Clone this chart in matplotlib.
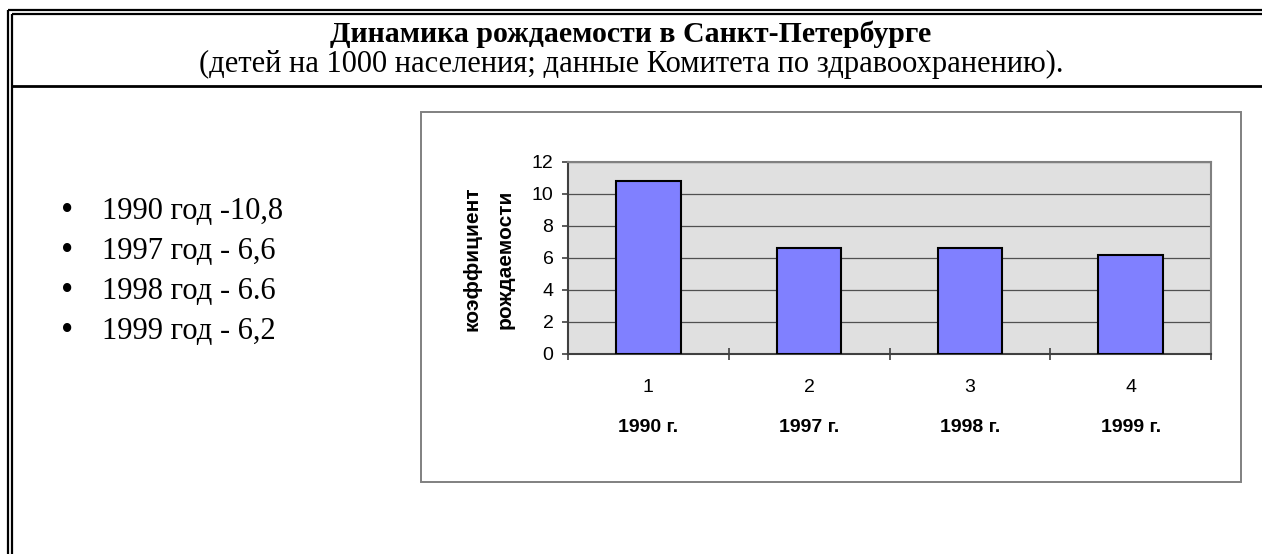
import matplotlib.pyplot as plt
from matplotlib.lines import Line2D
from matplotlib.patches import Rectangle
from matplotlib.transforms import blended_transform_factory

W, H = 1262, 554

# chart data
positions = [1, 2, 3, 4]
years = ['1990 г.', '1997 г.', '1998 г.', '1999 г.']
birth_rate = [10.8, 6.6, 6.6, 6.2]
y_ticks = [0, 2, 4, 6, 8, 10, 12]

bullet_lines = ['1990 год -10,8', '1997 год - 6,6', '1998 год - 6.6', '1999 год - 6,2']

title = 'Динамика рождаемости в Санкт-Петербурге'
subtitle = '(детей на 1000 населения; данные Комитета по здравоохранению).'
ylabel_lines = ['коэффициент', 'рождаемости']


def fx(px):
    return px / W


def fy(py):
    return 1 - py / H


def line(x0, y0, x1, y1, lw=1.6, color='black'):
    fig.add_artist(Line2D([fx(x0), fx(x1)], [fy(y0), fy(y1)], color=color, lw=lw,
                          solid_capstyle='butt'))


serif = 'Liberation Serif'
sans = 'Liberation Sans'

fig = plt.figure(figsize=(W / 100, H / 100), dpi=100, facecolor='white')

# double border on the left and top, single line under the header
line(8, 10, 8, H)
line(12, 14, 12, H)
line(8, 10, W, 10)
line(12, 14, W, 14)
line(12, 86, W, 86, lw=2.0)

fig.text(0.5, fy(34), title, family=serif, fontsize=21.5, fontweight='bold',
         ha='center', va='center')
fig.text(0.5, fy(64), subtitle, family=serif, fontsize=22,
         ha='center', va='center')

# bullet list
for i, txt in enumerate(bullet_lines):
    yb = 219 + i * 40
    fig.text(fx(61), fy(yb + 1), '\u2022', family=serif, fontsize=25, ha='left', va='baseline')
    fig.text(fx(102), fy(yb), txt, family=serif, fontsize=22, ha='left', va='baseline')

# chart frame
fig.add_artist(Rectangle((fx(421), fy(482)), fx(1241) - fx(421), (482 - 112) / H,
                         transform=fig.transFigure, fill=False, edgecolor='#808080', lw=1.4))

ax = fig.add_axes([fx(568), fy(354), fx(1211) - fx(568), (354 - 162) / H])
ax.set_facecolor('#e0e0e0')
ax.bar(positions, birth_rate, width=0.4, color='#8080ff', edgecolor='black',
       linewidth=1.5, zorder=3)
ax.set_xlim(0.5, 4.5)
ax.set_ylim(0, 12)
ax.set_yticks(y_ticks)
ax.set_yticklabels([str(t) for t in y_ticks], family=sans, fontsize=14)
ax.yaxis.grid(True, color='#505050', lw=0.9, zorder=0)
ax.set_axisbelow(True)

ax.set_xticks([p - 0.5 for p in positions] + [positions[-1] + 0.5])
ax.set_xticklabels([])
ax.set_xticks(positions, minor=True)
ax.set_xticklabels([str(p) for p in positions], minor=True, family=sans, fontsize=14)
ax.tick_params(axis='x', which='major', direction='inout', length=9, color='#404040', width=1.2)
ax.tick_params(axis='x', which='minor', length=0, pad=18)
ax.tick_params(axis='y', direction='out', length=4.5, pad=6, color='#404040', width=1.2)

for side in ['top', 'right']:
    ax.spines[side].set_color('#808080')
    ax.spines[side].set_linewidth(1.5)
for side in ['left', 'bottom']:
    ax.spines[side].set_color('#404040')
    ax.spines[side].set_linewidth(1.5)

trans = blended_transform_factory(ax.transData, ax.transAxes)
for p, yr in zip(positions, years):
    ax.text(p, -0.385, yr, transform=trans, family=sans, fontsize=14,
            fontweight='bold', ha='center', va='center')

# two-line y axis title
for xpx, txt in zip([472, 505], ylabel_lines):
    fig.text(fx(xpx), fy(259), txt, family=sans, fontsize=15, fontweight='bold',
             rotation=90, ha='center', va='center')

fig.savefig('out.png', dpi=100, facecolor='white')
